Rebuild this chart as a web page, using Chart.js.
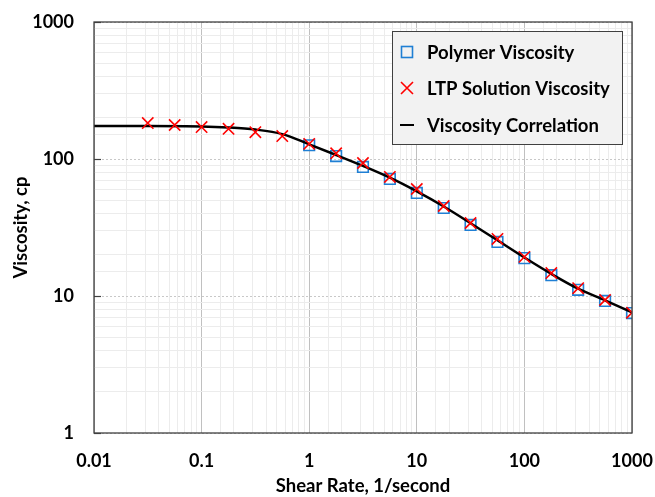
<!DOCTYPE html>
<html>
<head>
<meta charset="utf-8">
<script src="https://cdn.jsdelivr.net/npm/chart.js@4.4.1/dist/chart.umd.min.js"></script>
<style>
  html,body{margin:0;padding:0;background:#fff;}
  #wrap{width:655px;height:497px;position:relative;}
</style>
</head>
<body>
<div id="wrap"><canvas id="c" width="655" height="497"></canvas></div>
<script>
// Shear rate (1/second)
const ltpShear = [0.0316, 0.0562, 0.1, 0.178, 0.316, 0.562, 1, 1.78, 3.16, 5.62, 10, 17.8, 31.6, 56.2, 100, 178, 316, 562, 1000];
const ltpVisc  = [183, 177, 171, 166, 157, 147, 129, 110, 93.5, 74, 60.4, 45.4, 34.1, 26.1, 19.3, 14.7, 11.4, 9.35, 7.55];
const polyShear = [1, 1.78, 3.16, 5.62, 10, 17.8, 31.6, 56.2, 100, 178, 316, 562, 1000];
const polyVisc  = [126, 105, 87.5, 71.5, 56.5, 43.9, 33, 24.8, 18.9, 14.2, 11.1, 9.2, 7.5];
const corrShear = [0.01, 0.0316, 0.1, 0.178, 0.316, 0.562, 1, 1.78, 3.16, 5.62, 10, 17.8, 31.6, 56.2, 100, 178, 316, 562, 1000];
const corrVisc  = [174, 174, 173, 170, 164, 152, 128, 107, 89, 73, 58, 45, 34, 25.5, 19.1, 14.5, 11.3, 9.3, 7.6];
const xTickLabels = ['0.01', '0.1', '1', '10', '100', '1000'];
const yTickLabels = ['1', '10', '100', '1000'];
const legendLabels = ['Polymer Viscosity', 'LTP Solution Viscosity', 'Viscosity Correlation'];

const FONT = 'Lato, "Open Sans", sans-serif';
const pts = (xs, ys) => xs.map((x, i) => ({x, y: ys[i]}));
const isMajor = v => { const l = Math.log10(v); return Math.abs(l - Math.round(l)) < 1e-6; };
const fmt = (v, labels) => { const s = labels.find(t => Math.abs(parseFloat(t) - v) < 1e-9 * Math.max(1, v)); return s || ''; };

const boxPlugin = {
  id: 'box',
  beforeDatasetsDraw(chart) {
    // inward major tick marks on the value axis
    const {ctx, chartArea: a, scales: {y}} = chart;
    ctx.save();
    ctx.strokeStyle = '#404040';
    ctx.lineWidth = 1.2;
    y.ticks.forEach(t => {
      if (!isMajor(t.value)) return;
      const py = Math.round(y.getPixelForValue(t.value)) + 0.5;
      ctx.beginPath(); ctx.moveTo(a.left, py); ctx.lineTo(a.left + 7, py); ctx.stroke();
    });
    ctx.restore();
  },
  afterDatasetsDraw(chart) {
    const {ctx, chartArea: a} = chart;
    ctx.save();
    ctx.strokeStyle = '#404040';
    ctx.lineWidth = 1.3;
    ctx.strokeRect(a.left, a.top, a.right - a.left, a.bottom - a.top);
    ctx.restore();
  },
  afterDraw(chart) {
    const ctx = chart.ctx;
    const bx = 392, by = 31, bw = 230, bh = 113;
    ctx.save();
    ctx.fillStyle = '#f2f2f2';
    ctx.fillRect(bx, by, bw, bh);
    ctx.strokeStyle = '#404040';
    ctx.lineWidth = 1;
    ctx.strokeRect(bx + 0.5, by + 0.5, bw, bh);
    const rows = [52, 88, 125];
    const mx = 407, tx = 427;
    ctx.strokeStyle = '#1f7fd4'; ctx.lineWidth = 1.6;
    ctx.strokeRect(mx - 5.5, rows[0] - 5.5, 11, 11);
    ctx.strokeStyle = '#ff0000'; ctx.lineWidth = 1.6;
    ctx.beginPath();
    ctx.moveTo(mx - 6, rows[1] - 6); ctx.lineTo(mx + 6, rows[1] + 6);
    ctx.moveTo(mx + 6, rows[1] - 6); ctx.lineTo(mx - 6, rows[1] + 6);
    ctx.stroke();
    ctx.strokeStyle = '#000'; ctx.lineWidth = 2;
    ctx.beginPath(); ctx.moveTo(mx - 7, rows[2]); ctx.lineTo(mx + 7, rows[2]); ctx.stroke();
    ctx.fillStyle = '#000';
    ctx.font = 'bold 18.5px ' + FONT;
    ctx.textBaseline = 'middle';
    legendLabels.forEach((t, i) => ctx.fillText(t, tx, rows[i] + 1));
    ctx.restore();
  }
};

new Chart(document.getElementById('c'), {
  type: 'scatter',
  data: {
    datasets: [
      {
        label: legendLabels[1],
        data: pts(ltpShear, ltpVisc),
        pointStyle: 'crossRot',
        pointRadius: 8,
        pointBorderColor: '#ff0000',
        pointBorderWidth: 1.6,
        showLine: false
      },
      {
        label: legendLabels[2],
        data: pts(corrShear, corrVisc),
        showLine: true,
        borderColor: '#000',
        borderWidth: 2.5,
        pointRadius: 0,
        cubicInterpolationMode: 'monotone',
        fill: false
      },
      {
        label: legendLabels[0],
        data: pts(polyShear, polyVisc),
        pointStyle: 'rect',
        pointRadius: 7.5,
        pointBackgroundColor: 'rgba(0,0,0,0)',
        pointBorderColor: '#1f7fd4',
        pointBorderWidth: 1.6,
        showLine: false
      }
    ]
  },
  options: {
    responsive: false,
    animation: false,
    layout: {padding: {top: 22, right: 23, left: 0, bottom: 0}},
    plugins: {legend: {display: false}, tooltip: {enabled: false}},
    scales: {
      x: {
        type: 'logarithmic',
        min: 0.01, max: 1000,
        afterFit: s => { s.height = 64; },
        grid: {
          color: c => isMajor(c.tick.value) ? '#c0c0c0' : '#ececec',
          lineWidth: 1,
          drawTicks: true,
          tickLength: 17,
          tickColor: 'rgba(0,0,0,0)'
        },
        border: {display: false},
        ticks: {
          autoSkip: false, maxRotation: 0, padding: 0,
          color: '#000',
          font: {family: FONT, size: 18, weight: 'bold'},
          callback: v => fmt(v, xTickLabels)
        },
        title: {
          display: true, text: 'Shear Rate, 1/second',
          color: '#000', padding: {top: 2, bottom: 0},
          font: {family: FONT, size: 18.5, weight: 'bold'}
        }
      },
      y: {
        type: 'logarithmic',
        min: 1, max: 1000,
        afterFit: s => { s.width = 94; },
        grid: {
          color: c => isMajor(c.tick.value) ? '#c8c8c8' : '#ececec',
          lineWidth: 1,
          drawTicks: true,
          tickLength: 20,
          tickColor: 'rgba(0,0,0,0)'
        },
        border: {display: false, dash: c => (c.tick && isMajor(c.tick.value)) ? [2, 2] : []},
        ticks: {
          autoSkip: false, padding: 0,
          color: '#000',
          font: {family: FONT, size: 18, weight: 'bold'},
          callback: v => fmt(v, yTickLabels)
        },
        title: {
          display: true, text: 'Viscosity, cp',
          color: '#000', padding: {top: 10, bottom: 0},
          font: {family: FONT, size: 18.5, weight: 'bold'}
        }
      }
    }
  },
  plugins: [boxPlugin]
});
</script>
</body>
</html>
